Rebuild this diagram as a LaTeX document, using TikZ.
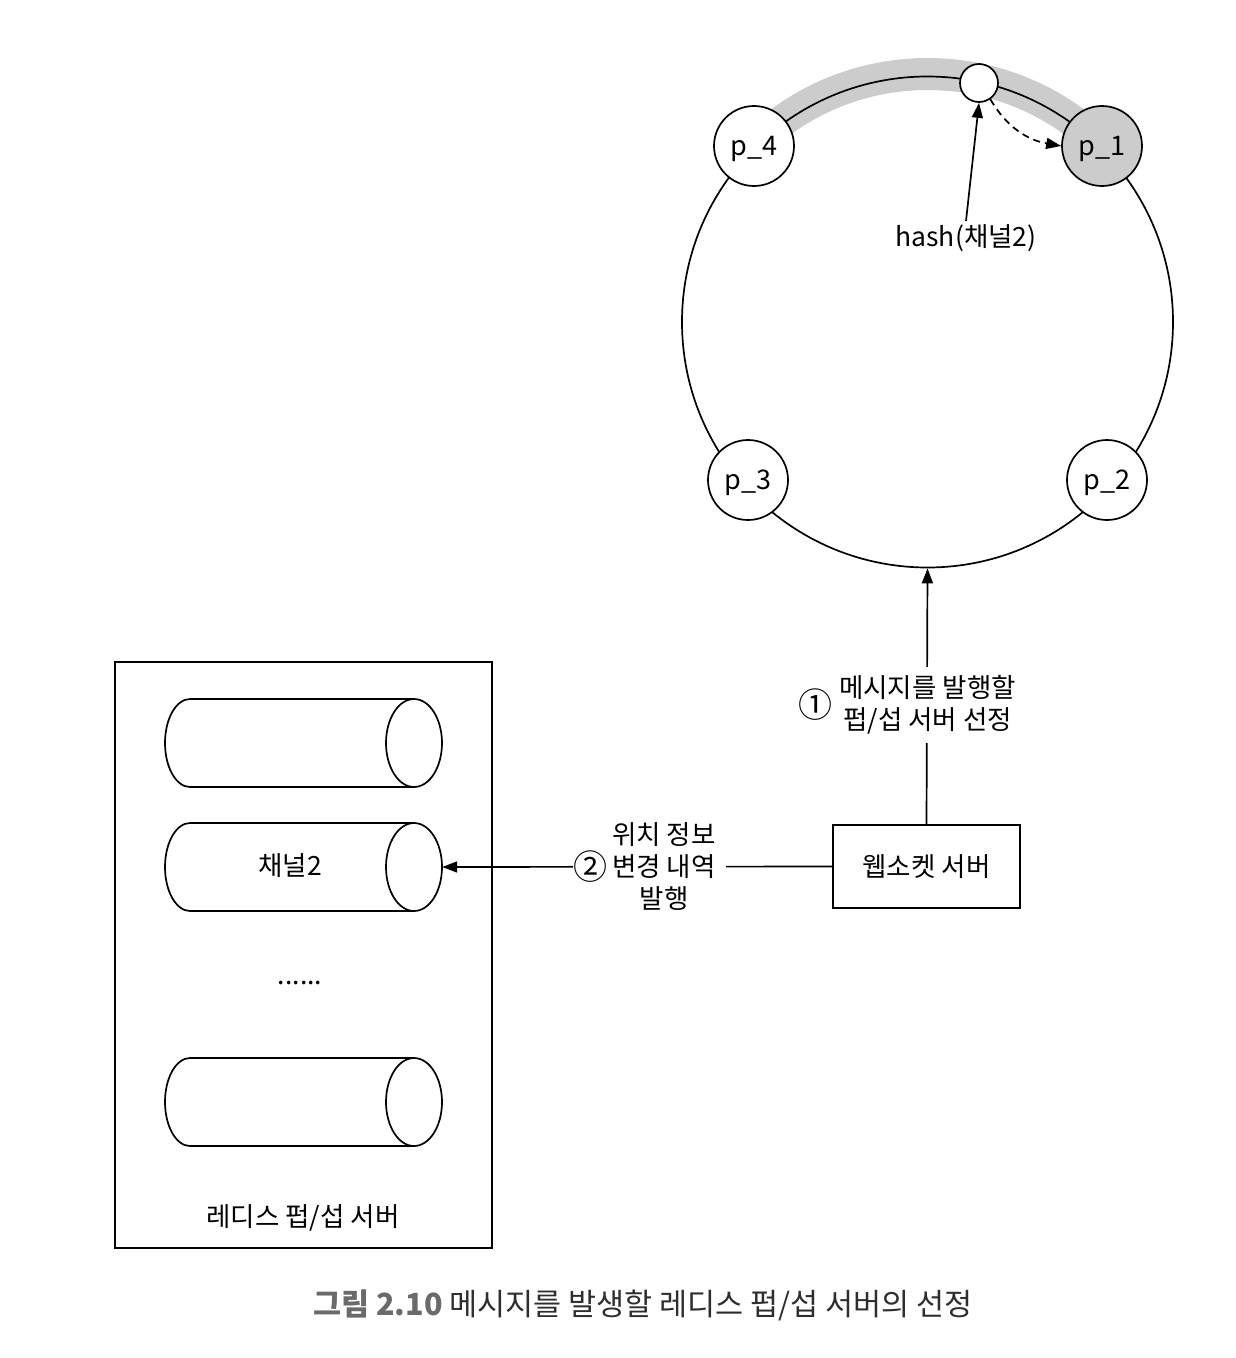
\documentclass[tikz,border=0pt]{standalone}
\usepackage{fontspec}
\setmainfont{Noto Sans CJK KR}
\usetikzlibrary{arrows.meta}
\definecolor{band}{HTML}{CCCCCC}
\definecolor{capgray}{HTML}{6A6A6A}
\definecolor{captext}{HTML}{2E2E2E}
\begin{document}
\begin{tikzpicture}[x=1pt,y=1pt,
  every node/.style={font=\fontsize{26.5}{32}\selectfont},
  ln/.style={line width=1.7pt},
  pnode/.style={circle,draw,ln,fill=white,minimum size=80pt,inner sep=0pt,text depth=0pt,font=\fontsize{27}{32}\selectfont},
  tip/.style={-{Triangle[length=15pt,width=11pt]}},
  lbl/.style={fill=white,align=center,inner sep=8pt},
  circnum/.style={font=\fontsize{34}{34}\selectfont}]
\useasboundingbox (0,0) rectangle (1236,-1358);
% ring and highlighted band
\draw[band,line width=32pt] (927.5,-322) ++(135:248) arc[start angle=135,end angle=45,radius=248];
\node[circle,draw,ln,minimum size=491pt,inner sep=0pt] (ring) at (927.5,-322) {};
\node[pnode] (p4) at (754,-146) {p\_4};
\node[pnode,fill=band] (p1) at (1102,-146) {p\_1};
\node[pnode] (p3) at (748,-480) {p\_3};
\node[pnode] (p2) at (1107,-480) {p\_2};
\node[circle,draw,ln,fill=white,minimum size=38pt,inner sep=0pt] (hs) at (979,-83) {};
\node (hlabel) at (966,-238) {hash(채널2)};
\draw[ln,tip] (hlabel.north) -- (hs.south);
\draw[ln,tip,dashed,dash pattern=on 7pt off 5pt] (hs.-55) to[out=-60,in=170] (p1.west);
% websocket server
\node[draw,ln,minimum width=187pt,minimum height=83pt,inner sep=0pt] (ws) at (926.5,-866.5) {웹소켓 서버};
\draw[ln,tip] (ws.north) -- (ring.south);
\node[lbl,inner sep=9pt] (l1) at (927.5,-705) {메시지를 발행할\\펍/섭 서버 선정};
\node[circnum,inner sep=0pt,anchor=east] (n1) at (833,-705) {①};
% redis pub/sub server
\node[draw,ln,minimum width=377pt,minimum height=586pt,inner sep=0pt] (redis) at (303.5,-955) {};
\node (rlabel) at (303,-1218) {레디스 펍/섭 서버};
\foreach \nm/\yc in {c1/743,c2/867,c3/1102}{
  \draw[ln,fill=white] (414,-\yc+44) -- (190,-\yc+44) arc[start angle=90,end angle=270,x radius=25pt,y radius=44pt] -- (414,-\yc-44);
  \draw[ln] (414,-\yc) ellipse[x radius=28pt,y radius=44pt];
  \node[minimum width=277pt,minimum height=88pt,inner sep=0pt] (\nm) at (303.5,-\yc) {};
}
\node at (290,-866) {채널2};
\node (dots) at (300,-983) {......};
\draw[ln,tip] (ws.west) -- (c2.east);
\node[lbl,inner sep=10pt] (l2) at (664,-867) {위치 정보\\변경 내역\\발행};
\node[circnum,fill=white,inner sep=0pt] (n2) at (590,-867) {②};
% caption
\node (cap) at (643,-1305) {\fontsize{30.5}{36}\selectfont\textcolor{capgray}{\bfseries 그림 2.10} \textcolor{captext}{메시지를 발생할 레디스 펍/섭 서버의 선정}};
\end{tikzpicture}
\end{document}
